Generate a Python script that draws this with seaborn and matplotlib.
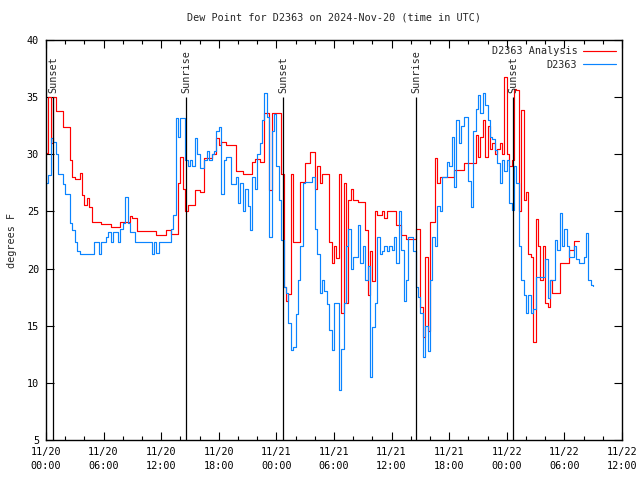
import numpy as np
import pandas as pd
import matplotlib
matplotlib.use("Agg")
import matplotlib.pyplot as plt
import matplotlib.dates as mdates
import seaborn as sns

# --- datos (cada 15 min desde 2024-11-20 00:00 UTC) ---
START = "2024-11-20 00:00"
STEP_MIN = 15

# D2363 Analysis (rojo), una fila por hora
analysis = [
    30.1, 35.0, 31.0, 35.0,
    33.8, 33.8, 33.8, 32.4,
    32.4, 32.4, 29.5, 28.0,
    27.8, 27.8, 28.4, 26.4,
    25.6, 26.2, 25.4, 24.1,
    24.1, 24.1, 24.1, 23.9,
    23.9, 23.9, 23.9, 23.6,
    23.6, 23.6, 23.6, 24.1,
    24.1, 24.1, 24.1, 24.6,
    24.4, 24.4, 23.3, 23.3,
    23.3, 23.3, 23.3, 23.3,
    23.3, 23.3, 22.9, 22.9,
    22.9, 22.9, 23.4, 23.4,
    23.0, 23.0, 23.0, 27.5,
    29.8, 27.0, 25.0, 25.6,
    25.6, 25.6, 26.9, 26.9,
    26.7, 26.7, 29.7, 29.7,
    29.7, 30.0, 30.0, 31.4,
    30.8, 31.1, 31.1, 30.8,
    30.8, 30.8, 30.8, 28.5,
    28.5, 28.5, 28.3, 28.3,
    28.3, 28.3, 29.3, 29.6,
    29.6, 29.3, 29.3, 33.6,
    33.6, 26.9, 33.6, 33.6,
    33.6, 33.6, 28.3, 18.4,
    17.2, 17.8, 28.3, 22.3,
    22.3, 22.3, 27.6, 27.6,
    29.2, 29.2, 30.2, 30.2,
    27.0, 29.0, 27.5, 28.3,
    28.3, 28.3, 22.3, 20.5,
    22.0, 20.9, 28.3, 16.1,
    27.5, 17.0, 26.0, 27.0,
    26.0, 26.0, 25.8, 25.8,
    25.8, 23.4, 17.7, 21.5,
    18.9, 25.0, 24.7, 24.7,
    25.0, 24.4, 25.0, 25.0,
    25.0, 25.0, 23.8, 23.8,
    22.9, 22.9, 22.6, 22.6,
    22.6, 22.6, 23.5, 23.5,
    16.6, 14.0, 21.0, 14.5,
    24.1, 24.1, 29.7, 27.5,
    28.0, 28.0, 28.0, 28.0,
    28.0, 28.0, 28.6, 28.6,
    28.6, 28.6, 29.2, 29.2,
    29.2, 29.2, 29.2, 31.7,
    29.8, 31.5, 33.0, 29.8,
    32.5, 30.5, 31.0, 30.0,
    30.5, 31.0, 30.0, 36.8,
    30.0, 29.0, 29.5, 35.7,
    35.6, 25.0, 33.9, 26.0,
    26.7, 21.3, 21.0, 13.6,
    24.3, 22.0, 19.0, 22.0,
    17.0, 16.6, 19.0, 17.9,
    17.9, 17.9, 20.5, 20.5,
    20.5, 20.5, 21.6, 21.6,
    22.4, 22.4, 22.4,
]

# D2363 observado (azul)
observed = [
    27.5, 28.2, 31.4, 31.1,
    30.0, 28.3, 28.3, 27.4,
    26.5, 26.5, 24.0, 23.4,
    22.3, 21.5, 21.3, 21.3,
    21.3, 21.3, 21.3, 21.3,
    22.3, 22.3, 21.3, 22.3,
    22.3, 22.8, 23.2, 22.3,
    23.2, 23.2, 22.3, 23.5,
    24.0, 26.3, 24.0, 23.2,
    23.2, 22.3, 22.3, 22.3,
    22.3, 22.3, 22.3, 22.3,
    21.3, 22.3, 21.4, 22.3,
    22.3, 22.3, 22.3, 22.3,
    23.5, 24.7, 33.2, 31.5,
    33.2, 33.2, 29.5, 29.0,
    29.5, 29.0, 31.4, 30.0,
    28.8, 28.8, 29.5, 30.3,
    29.5, 30.0, 30.3, 32.0,
    32.4, 26.5, 29.5, 29.8,
    29.8, 27.4, 27.4, 28.0,
    25.7, 27.5, 25.0, 27.0,
    25.5, 23.4, 28.0, 27.0,
    30.0, 31.0, 33.0, 35.4,
    33.3, 22.8, 32.0, 33.5,
    29.0, 26.0, 22.5, 18.4,
    17.9, 15.2, 12.9, 13.1,
    16.0, 19.0, 22.0, 27.5,
    27.6, 27.6, 27.6, 28.0,
    23.5, 21.3, 17.9, 19.0,
    18.0, 16.9, 14.6, 12.9,
    17.0, 17.0, 9.4, 13.0,
    17.0, 22.0, 23.5, 20.0,
    21.0, 21.0, 23.8, 20.5,
    22.0, 19.0, 20.2, 10.5,
    14.9, 17.0, 22.8, 21.3,
    21.5, 22.0, 21.5, 22.0,
    21.6, 22.8, 20.5, 25.0,
    21.6, 17.2, 19.0, 22.8,
    22.8, 21.5, 18.4, 17.5,
    16.1, 12.3, 15.0, 12.8,
    19.0, 22.8, 22.0, 25.5,
    25.0, 28.0, 28.0, 29.3,
    29.0, 31.5, 27.1, 33.0,
    31.0, 32.5, 33.3, 33.3,
    27.7, 25.4, 32.0, 34.0,
    35.2, 33.6, 35.4, 34.3,
    33.0, 31.5, 31.3, 30.4,
    29.2, 27.5, 29.5, 28.5,
    29.5, 25.7, 25.1, 29.0,
    27.5, 22.0, 19.0, 17.7,
    16.1, 17.7, 16.1, 16.5,
    19.3, 19.3, 19.3, 19.3,
    20.8, 17.4, 19.0, 19.0,
    22.5, 21.6, 24.9, 22.0,
    23.5, 22.0, 21.0, 21.0,
    22.0, 20.8, 20.5, 20.5,
    21.0, 23.1, 19.0, 18.6,
    18.5,
]

# salida / puesta del sol (horas desde el inicio)
sun_hours = [0.75, 14.58, 24.72, 38.54, 48.68]
sun_labels = ["Sunset", "Sunrise", "Sunset", "Sunrise", "Sunset"]

RED = "#ff0000"
BLUE = "#0a84ff"

sns.set_style("ticks")
plt.rcParams["font.family"] = ["DejaVu Sans Mono", "DejaVu Sans"]
plt.rcParams["font.size"] = 7.3

start = pd.Timestamp(START)


def _times(n):
    return start + pd.to_timedelta(np.arange(n) * STEP_MIN, unit="min")


df_a = pd.DataFrame({"time": _times(len(analysis)), "dewpt": analysis})
df_o = pd.DataFrame({"time": _times(len(observed)), "dewpt": observed})

fig = plt.figure(figsize=(6.4, 4.8), dpi=100)
ax = fig.add_axes([46 / 640, 40 / 480, 576 / 640, 400 / 480])

sns.lineplot(data=df_a, x="time", y="dewpt", ax=ax, color=RED, lw=0.85,
             drawstyle="steps-post", estimator=None, label="D2363 Analysis")
sns.lineplot(data=df_o, x="time", y="dewpt", ax=ax, color=BLUE, lw=0.85,
             drawstyle="steps-post", estimator=None, label="D2363")

# lineas de amanecer / atardecer
for h, lab in zip(sun_hours, sun_labels):
    t = start + pd.Timedelta(hours=h)
    ax.vlines(t, 5, 35, color="black", lw=0.9, zorder=3)
    ax.text(t, 35.4, lab, rotation=90, ha="center", va="bottom", fontsize=7.3)

ax.set_xlim(start, start + pd.Timedelta(hours=60))
ax.set_ylim(5, 40)
ax.set_yticks(np.arange(5, 41, 5))
ax.xaxis.set_major_locator(mdates.HourLocator(byhour=[0, 6, 12, 18]))
ax.xaxis.set_minor_locator(mdates.HourLocator(interval=2))
ax.xaxis.set_major_formatter(mdates.DateFormatter("%m/%d\n%H:%M"))

ax.tick_params(which="both", direction="in", top=True, right=True,
               width=0.8, colors="black")
ax.tick_params(which="major", length=6, pad=5)
ax.tick_params(which="minor", length=3)
for s in ax.spines.values():
    s.set_linewidth(1.0)
    s.set_color("black")

ax.set_xlabel("")
ax.set_ylabel("degrees F", labelpad=7)
ax.set_title("Dew Point for D2363 on 2024-Nov-20 (time in UTC)", pad=14,
             fontsize=7.3)

ax.legend(loc="upper right", frameon=False, markerfirst=False,
          handlelength=3.2, borderaxespad=0.2, labelspacing=0.35,
          handletextpad=0.6)

fig.canvas.draw()
for lbl in ax.get_xticklabels():
    lbl.set_linespacing(1.55)

fig.savefig("out.png", dpi=100)
